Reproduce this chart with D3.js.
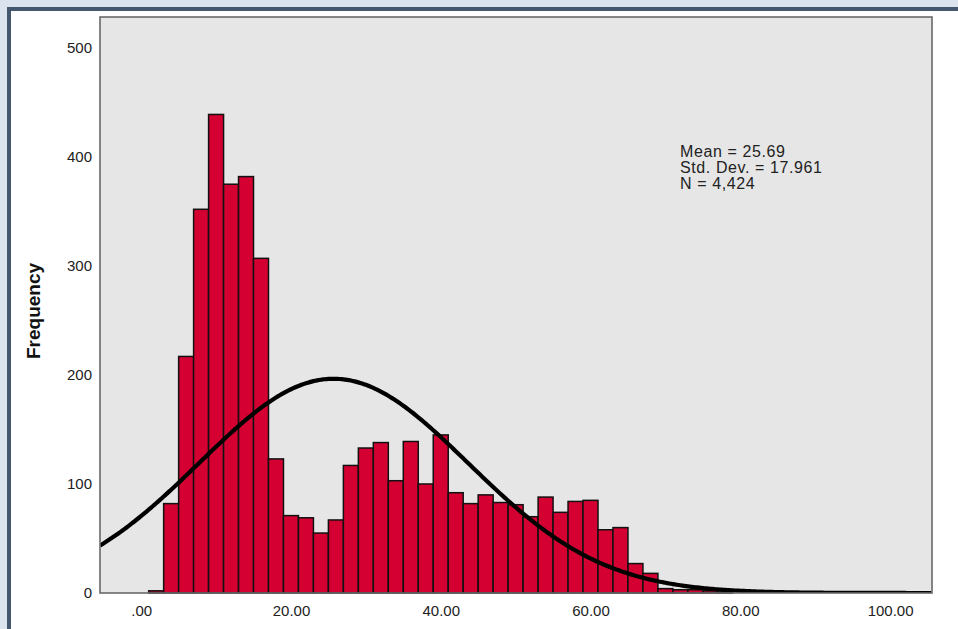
<!DOCTYPE html>
<html>
<head>
<meta charset="utf-8">
<script src="https://cdn.jsdelivr.net/npm/d3@7"></script>
<style>
  html, body { margin: 0; padding: 0; background: #dbe3ee; }
  svg { display: block; }
  text { font-family: "Liberation Sans", Arial, sans-serif; }
</style>
</head>
<body>
<svg id="chart" width="958" height="629"></svg>
<script>
// Histogram bins (lower edge of each 2-unit bin) and their counts
const binLower = [1, 3, 5, 7, 9, 11, 13, 15, 17, 19, 21, 23, 25, 27, 29, 31, 33, 35, 37, 39,
                  41, 43, 45, 47, 49, 51, 53, 55, 57, 59, 61, 63, 65, 67, 69, 71, 73, 75, 77];
const frequency = [2, 82, 217, 352, 439, 375, 382, 307, 123, 71, 69, 55, 67, 117, 133, 138, 103, 139, 100, 145,
                   92, 82, 90, 83, 81, 70, 88, 74, 84, 85, 58, 60, 27, 18, 4, 3, 3, 2, 1];
const binWidth = 2;

// Axis ticks
const yTickValues = [0, 100, 200, 300, 400, 500];
const xTickValues = [0, 20, 40, 60, 80, 100];

// Summary statistics for the fitted normal curve
const mean = 25.69;
const stdDev = 17.961;
const count = 4424;
const statLines = ["Mean = 25.69", "Std. Dev. = 17.961", "N = 4,424"];

const svg = d3.select("#chart");

// Window frame: dark edge on top and left, white panel inside
svg.append("rect").attr("x", 7).attr("y", 7).attr("width", 951).attr("height", 622).attr("fill", "#44576f");
svg.append("rect").attr("x", 11).attr("y", 11).attr("width", 947).attr("height", 618).attr("fill", "#ffffff");

const plot = { left: 100, top: 17, right: 932, bottom: 593 };

const x = d3.scaleLinear().domain([-5.5, 105.6]).range([plot.left, plot.right]);
const y = d3.scaleLinear().domain([0, 528.4]).range([plot.bottom, plot.top]);

// Plot background
svg.append("rect")
  .attr("x", plot.left).attr("y", plot.top)
  .attr("width", plot.right - plot.left).attr("height", plot.bottom - plot.top)
  .attr("fill", "#e6e6e6");

svg.append("clipPath").attr("id", "plotClip")
  .append("rect")
  .attr("x", plot.left).attr("y", plot.top)
  .attr("width", plot.right - plot.left).attr("height", plot.bottom - plot.top);

// Bars
const bins = binLower.map((lo, i) => ({ lo, hi: lo + binWidth, n: frequency[i] }));
svg.append("g").selectAll("rect")
  .data(bins)
  .join("rect")
  .attr("x", d => x(d.lo))
  .attr("y", d => y(d.n))
  .attr("width", d => x(d.hi) - x(d.lo))
  .attr("height", d => y(0) - y(d.n))
  .attr("fill", "#d50032")
  .attr("stroke", "#111")
  .attr("stroke-width", 1.5);

// Normal curve scaled to counts per bin
const peak = count * binWidth / (stdDev * Math.sqrt(2 * Math.PI));
const curvePts = d3.range(x.domain()[0], x.domain()[1] + 0.01, 0.25)
  .map(v => [v, peak * Math.exp(-0.5 * Math.pow((v - mean) / stdDev, 2))]);
svg.append("path")
  .datum(curvePts)
  .attr("clip-path", "url(#plotClip)")
  .attr("fill", "none")
  .attr("stroke", "#000")
  .attr("stroke-width", 4.2)
  .attr("stroke-linejoin", "round")
  .attr("d", d3.line().x(d => x(d[0])).y(d => y(d[1])));

// Plot border
svg.append("rect")
  .attr("x", plot.left).attr("y", plot.top)
  .attr("width", plot.right - plot.left).attr("height", plot.bottom - plot.top)
  .attr("fill", "none")
  .attr("stroke", "#6a6a6a")
  .attr("stroke-width", 1.6);

// Axes
const yAxis = svg.append("g")
  .attr("transform", `translate(${plot.left},0)`)
  .call(d3.axisLeft(y).tickValues(yTickValues).tickSize(0).tickPadding(8));
const xAxis = svg.append("g")
  .attr("transform", `translate(0,${plot.bottom})`)
  .call(d3.axisBottom(x).tickValues(xTickValues).tickSize(0).tickPadding(12)
    .tickFormat(d => d === 0 ? ".00" : d3.format(".2f")(d)));
[yAxis, xAxis].forEach(g => {
  g.select(".domain").remove();
  g.selectAll("text")
    .attr("font-family", "'Liberation Sans', Arial, sans-serif")
    .attr("font-size", 15)
    .attr("fill", "#222");
});

// Axis title
svg.append("text")
  .attr("transform", "translate(40,311) rotate(-90)")
  .attr("text-anchor", "middle")
  .attr("font-size", 19)
  .attr("font-weight", "bold")
  .attr("fill", "#111")
  .text("Frequency");

// Statistics box
svg.append("g").selectAll("text")
  .data(statLines)
  .join("text")
  .attr("x", 680)
  .attr("y", (d, i) => 156.5 + i * 16)
  .attr("font-size", 16)
  .attr("letter-spacing", 0.6)
  .attr("fill", "#222")
  .text(d => d);
</script>
</body>
</html>
